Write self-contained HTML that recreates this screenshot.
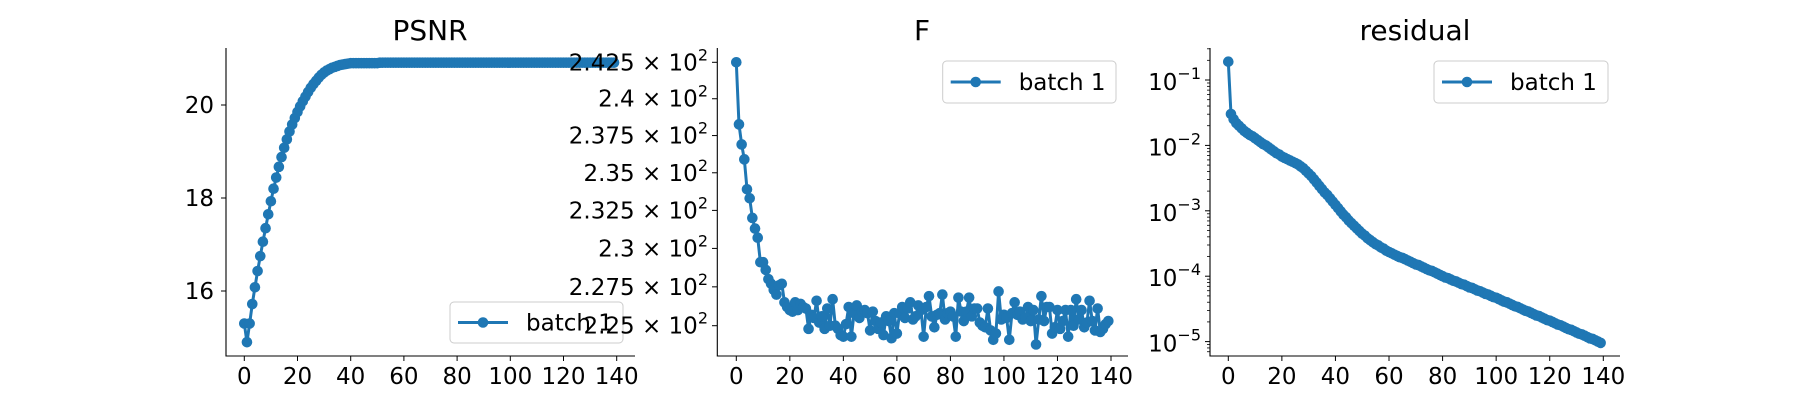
<!DOCTYPE html>
<html><head><meta charset="utf-8"><style>
html,body{margin:0;padding:0;background:#fff}
svg{display:block;font-family:"DejaVu Sans","Liberation Sans",sans-serif}
</style></head><body>
<svg id="fig" width="1800" height="400" viewBox="0 0 1800 400"></svg>
<script>
const xTicks=[0,20,40,60,80,100,120,140];
const psnrTicks=[16,18,20];
const fTicks=[242.5,240,237.5,235,232.5,230,227.5,225];
const fTickLabels=["2.425","2.4","2.375","2.35","2.325","2.3","2.275","2.25"];
const resTicks=[-1,-2,-3,-4,-5];
const psnr=[15.3,14.9,15.3,15.72,16.08,16.43,16.75,17.06,17.35,17.65,17.93,18.2,18.44,18.67,18.88,19.08,19.26,19.43,19.58,19.72,19.85,19.97,20.08,20.18,20.28,20.37,20.45,20.52,20.59,20.65,20.7,20.74,20.77,20.8,20.82,20.84,20.86,20.87,20.88,20.89,20.9,
20.9,20.9,20.9,20.9,20.9,20.9,20.9,20.9,20.9,20.9,
20.91,20.91,20.91,20.91,20.91,20.91,20.91,20.91,20.91,20.91,20.91,20.91,20.91,20.91,20.91,20.91,20.91,20.91,20.91,20.91,
20.91,20.91,20.91,20.91,20.91,20.91,20.91,20.91,20.91,20.91,20.91,20.91,20.91,20.91,20.91,20.91,20.91,20.91,20.91,20.91,
20.91,20.91,20.91,20.91,20.91,20.91,20.91,20.91,20.91,20.91,20.91,20.91,20.91,20.91,20.91,20.91,20.91,20.91,20.91,20.91,
20.91,20.91,20.91,20.91,20.91,20.91,20.91,20.91,20.91,20.91,20.91,20.91,20.91,20.91,20.91,20.91,20.91,20.91,20.91,20.91,
20.91,20.91,20.91,20.91,20.91,20.91,20.91,20.91,20.91];
const fVals=[242.5,238.26,236.9,235.9,233.9,233.3,232.0,231.3,230.7,229.1,229.1,228.6,228.0,227.7,227.3,227.0,227.6,227.7,226.5,226.2,
226.0,225.9,226.5,226.0,226.4,226.2,226.1,224.8,225.7,225.5,226.6,225.2,225.6,224.8,226.1,225.0,226.7,225.0,224.8,224.4,
224.3,225.1,226.2,224.3,225.8,226.3,225.5,225.9,226.0,225.8,224.7,225.9,225.3,224.8,225.2,224.4,225.6,225.3,224.2,225.8,
224.5,225.8,226.2,225.5,226.1,226.5,225.4,225.6,226.3,226.0,224.3,226.2,226.9,225.6,224.9,225.7,225.8,227.0,225.4,225.8,
225.9,225.6,224.3,226.8,225.9,225.3,225.9,226.8,225.6,226.1,226.1,225.2,225.0,224.9,226.1,224.7,224.1,224.5,227.2,225.4,
225.7,225.5,224.1,225.8,226.5,225.7,225.9,225.4,225.5,226.2,225.3,226.0,223.8,225.4,226.9,225.3,226.2,226.2,224.5,224.9,
226.0,224.8,225.3,226.0,224.3,226.0,225.0,226.7,225.4,226.0,224.9,225.2,226.6,225.3,224.7,226.1,224.6,224.8,225.1,225.3];
const resLog=[-0.72,-1.52,-1.60,-1.66,-1.70,-1.74,-1.78,-1.81,-1.84,-1.86,-1.89,-1.92,-1.95,-1.98,-2.00,-2.03,-2.06,-2.09,-2.12,-2.14,
-2.17,-2.19,-2.21,-2.23,-2.25,-2.27,-2.29,-2.32,-2.35,-2.39,-2.43,-2.47,-2.52,-2.57,-2.62,-2.67,-2.72,-2.76,-2.81,-2.86,
-2.91,-2.96,-3.01,-3.06,-3.10,-3.15,-3.19,-3.23,-3.27,-3.31,-3.35,-3.38,-3.42,-3.45,-3.48,-3.51,-3.53,-3.56,-3.58,-3.61,
-3.63,-3.65,-3.67,-3.69,-3.71,-3.72,-3.74,-3.76,-3.78,-3.80,-3.82,-3.83,-3.85,-3.87,-3.89,-3.91,-3.92,-3.94,-3.96,-3.98,-4.00,
-4.02,-4.03,-4.05,-4.07,-4.08,-4.10,-4.12,-4.13,-4.15,-4.17,-4.18,-4.20,-4.22,-4.23,-4.25,-4.27,-4.28,-4.30,-4.32,-4.33,
-4.35,-4.37,-4.39,-4.40,-4.42,-4.44,-4.46,-4.47,-4.49,-4.51,-4.53,-4.54,-4.56,-4.58,-4.60,-4.61,-4.63,-4.65,-4.67,-4.68,
-4.70,-4.72,-4.74,-4.75,-4.77,-4.79,-4.81,-4.82,-4.84,-4.86,-4.88,-4.89,-4.91,-4.93,-4.95,-4.96,-4.98,-5.00,-5.02];

const NS="http://www.w3.org/2000/svg";
const svg=document.getElementById('fig');
const C="#1f77b4";
const TF=23;
function mk(tag,attrs,parent,text){const e=document.createElementNS(NS,tag);for(const k in attrs)e.setAttribute(k,attrs[k]);if(text!==undefined)e.textContent=text;(parent||svg).appendChild(e);return e;}

function xScale(x0,x140){return v=>x0+(x140-x0)*v/140;}
const px1=xScale(244.3,616.7), py1=v=>105+(20-v)*46.5;
const px2=xScale(736.3,1111);
const fl=Math.log(242.5), fr=Math.log(242.5)-Math.log(225);
const py2=v=>62.3+(fl-Math.log(v))/fr*263.4;
const px3=xScale(1228.3,1603.3), py3=l=>80+(-1-l)*65.4;

function axes(g,left,right,top,bottom,px){
  const s=mk('path',{d:`M${left},${top}V${bottom}H${right}`,stroke:'#000','stroke-width':1.1,fill:'none'},g);
  
  
  xTicks.forEach(t=>{
    const x=px(t);
    mk('line',{x1:x,x2:x,y1:bottom,y2:bottom+5,stroke:'#000','stroke-width':1},g);
    const tx=mk('text',{x:x,y:384,'font-size':TF,'text-anchor':'middle',fill:'#000'},g,String(t));
    
    
  });
}
function title(g,x,t){const e=mk('text',{x:x,y:40,'font-size':28,'text-anchor':'middle',fill:'#000'},g,t);
  
  }
function series(g,xs,ys){
  let d='';xs.forEach((x,i)=>{d+=(i?'L':'M')+x.toFixed(2)+','+ys[i].toFixed(2);});
  const p=mk('path',{d:d,stroke:C,'stroke-width':3,fill:'none','stroke-linejoin':'round'},g);
  
  
  xs.forEach((x,i)=>{const c=mk('circle',{cx:x,cy:ys[i],r:5.3,fill:C},g);
    
    });
}
function legend(g,x,y,w,h){
  const r=mk('rect',{x:x,y:y,width:w,height:h,rx:4,fill:'#fff','fill-opacity':0.8,stroke:'#ccc','stroke-width':1},g);
  
  
  const cy=y+h/2;
  mk('line',{x1:x+8,x2:x+58,y1:cy,y2:cy,stroke:C,'stroke-width':3},g);
  mk('circle',{cx:x+33,cy:cy,r:5.3,fill:C},g);
  const t=mk('text',{x:x+76,y:cy+8,'font-size':TF,fill:'#000'},g,'batch 1');
  
  
}
const idx=psnr.map((_,i)=>i);

// Panel 1
const g1=mk('g',{});


title(g1,430,'PSNR');
axes(g1,226,635,48,356,px1);
psnrTicks.forEach(t=>{const y=py1(t);
  mk('line',{x1:221,x2:226,y1:y,y2:y,stroke:'#000'},g1);
  const e=mk('text',{x:214,y:y+8,'font-size':TF,'text-anchor':'end'},g1,String(t));
  
  });
series(g1,idx.map(px1),psnr.map(py1));
legend(g1,450,302,173,41);

// Panel 2
const g2=mk('g',{});


title(g2,922,'F');
axes(g2,717.3,1128,48,356,px2);
fTicks.forEach((t,i)=>{const y=py2(t);
  mk('line',{x1:712,x2:717.3,y1:y,y2:y,stroke:'#000'},g2);
  const e=mk('text',{x:708,y:y+8,'font-size':TF,'text-anchor':'end'},g2);
  
  
  e.appendChild(document.createTextNode(fTickLabels[i]+' \u00d7 10'));
  mk('tspan',{dy:-10,'font-size':16},e,'2');});
series(g2,idx.map(px2),fVals.map(py2));
legend(g2,942.7,61,173.3,42);

// Panel 3
const g3=mk('g',{});


title(g3,1415,'residual');
axes(g3,1210,1620,48,356,px3);
for(let k=-6;k<=-1;k++){for(let m=2;m<=9;m++){const y=py3(k+Math.log10(m));
  if(y>=48&&y<=356)mk('line',{x1:1207,x2:1210,y1:y,y2:y,stroke:'#000','stroke-width':0.8},g3);}}
resTicks.forEach(t=>{const y=py3(t);
  mk('line',{x1:1205,x2:1210,y1:y,y2:y,stroke:'#000'},g3);
  const e=mk('text',{x:1201,y:y+10,'font-size':TF,'text-anchor':'end'},g3);
  
  
  e.appendChild(document.createTextNode('10'));
  mk('tspan',{dy:-11,'font-size':16},e,'\u2212'+(-t));});
series(g3,idx.map(px3),resLog.map(py3));
legend(g3,1434,61,174,42);
</script>
</body></html>
